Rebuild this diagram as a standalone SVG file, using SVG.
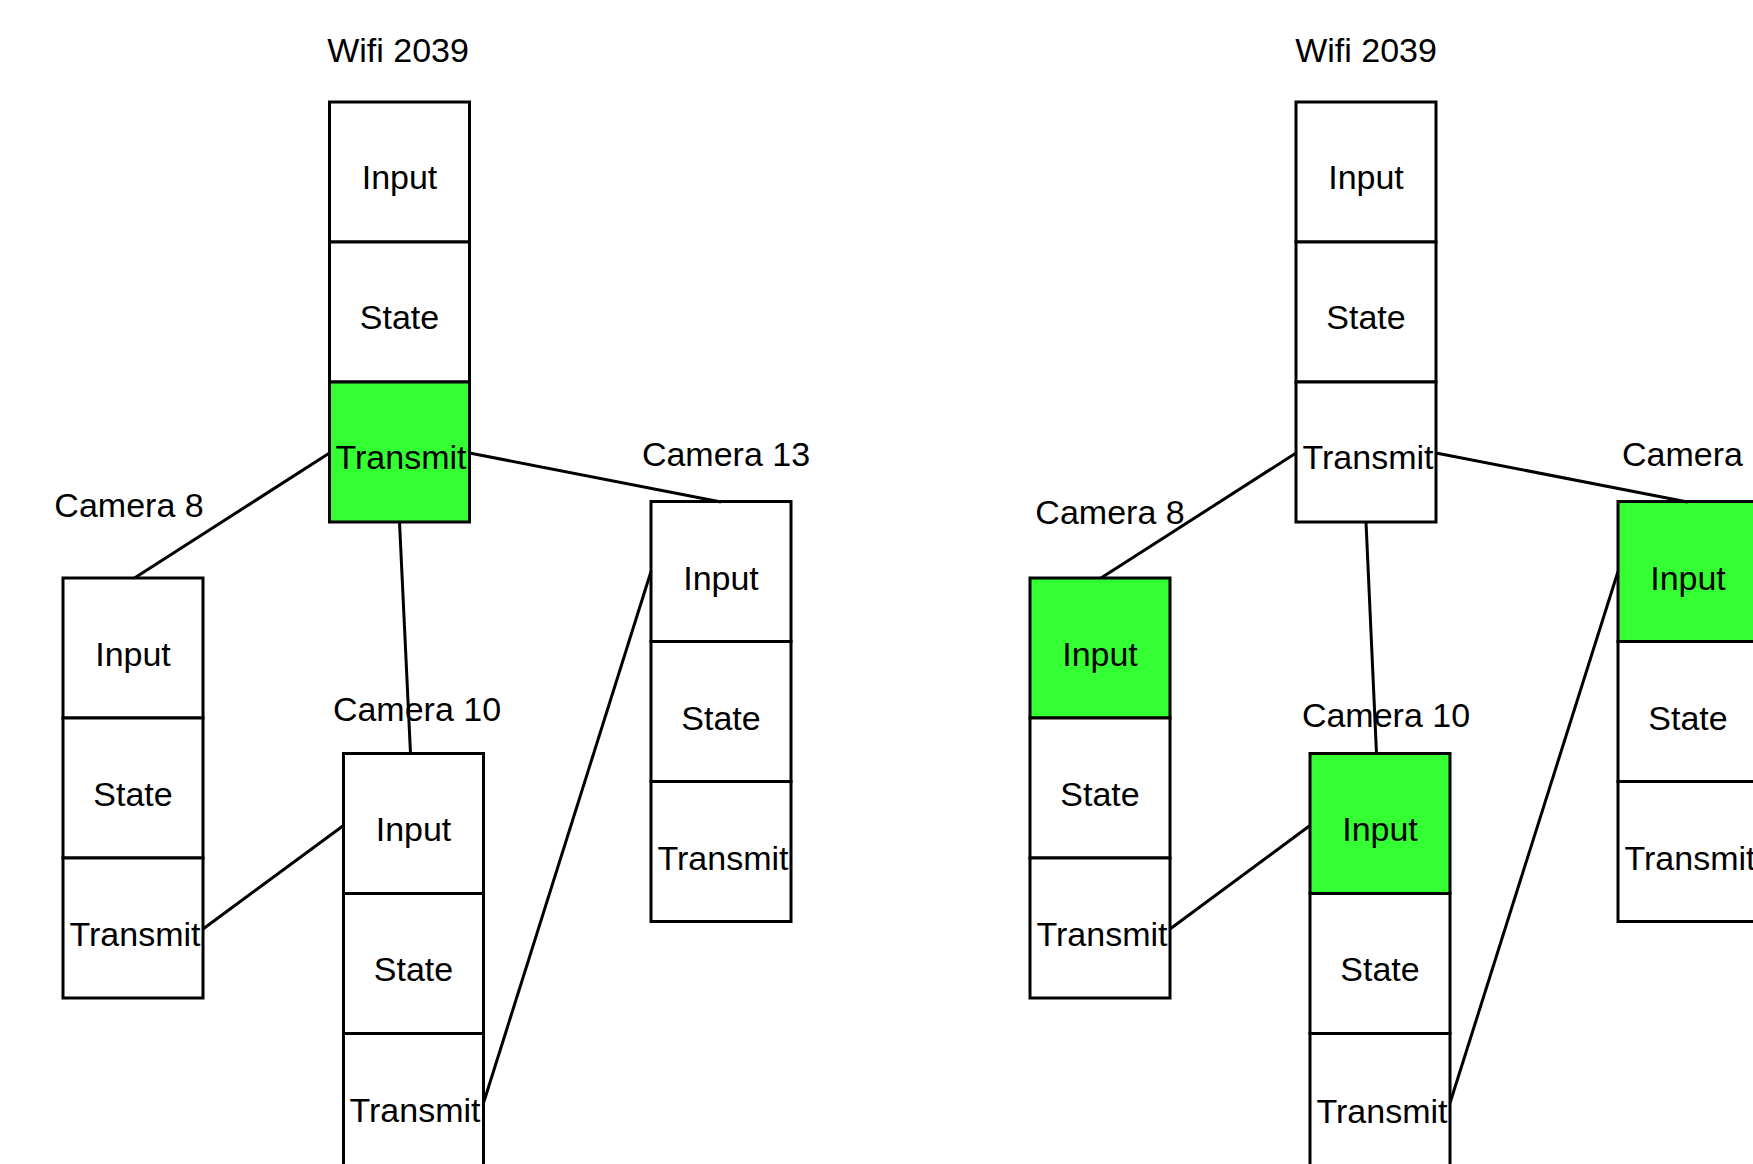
<svg xmlns="http://www.w3.org/2000/svg" width="1753" height="1164" viewBox="0 0 1753 1164">
  <style>
    .cell { fill: #ffffff; stroke: #000000; stroke-width: 3; }
    .cell.on { fill: #33ff33; }
    .txt { font-family: "Liberation Sans", Arial, sans-serif; font-size: 34px; fill: #000000; text-anchor: middle; }
    .lbl { font-family: "Liberation Sans", Arial, sans-serif; font-size: 34px; fill: #000000; text-anchor: middle; }
    .edge { stroke: #000000; stroke-width: 3; fill: none; }
  </style>
  <rect x="0" y="0" width="1753" height="1164" fill="#ffffff"/>

  <!-- Left panel: Wifi transmitting -->
  <g id="left-wifi-2039">
    <text class="lbl" x="398" y="62">Wifi 2039</text>
    <rect class="cell" x="329.5" y="102" width="140" height="140"/>
    <rect class="cell" x="329.5" y="242" width="140" height="140"/>
    <rect class="cell on" x="329.5" y="382" width="140" height="140"/>
    <text class="txt" x="399.5" y="189">Input</text>
    <text class="txt" x="399.5" y="329">State</text>
    <text class="txt" x="401" y="469">Transmit</text>
  </g>
  <g id="left-camera-8">
    <text class="lbl" x="129" y="517">Camera 8</text>
    <rect class="cell" x="63" y="578" width="140" height="140"/>
    <rect class="cell" x="63" y="718" width="140" height="140"/>
    <rect class="cell" x="63" y="858" width="140" height="140"/>
    <text class="txt" x="133" y="666">Input</text>
    <text class="txt" x="133" y="806">State</text>
    <text class="txt" x="135" y="946">Transmit</text>
  </g>
  <g id="left-camera-10">
    <text class="lbl" x="417" y="721">Camera 10</text>
    <rect class="cell" x="343.5" y="753.5" width="140" height="140"/>
    <rect class="cell" x="343.5" y="893.5" width="140" height="140"/>
    <rect class="cell" x="343.5" y="1033.5" width="140" height="140"/>
    <text class="txt" x="413.5" y="841">Input</text>
    <text class="txt" x="413.5" y="981">State</text>
    <text class="txt" x="415" y="1122">Transmit</text>
  </g>
  <g id="left-camera-13">
    <text class="lbl" x="726" y="466">Camera 13</text>
    <rect class="cell" x="651" y="501.5" width="140" height="140"/>
    <rect class="cell" x="651" y="641.5" width="140" height="140"/>
    <rect class="cell" x="651" y="781.5" width="140" height="140"/>
    <text class="txt" x="721" y="590">Input</text>
    <text class="txt" x="721" y="730">State</text>
    <text class="txt" x="723" y="870">Transmit</text>
  </g>

  <!-- Right panel: cameras receiving -->
  <g id="right-wifi-2039">
    <text class="lbl" x="1366" y="62">Wifi 2039</text>
    <rect class="cell" x="1296" y="102" width="140" height="140"/>
    <rect class="cell" x="1296" y="242" width="140" height="140"/>
    <rect class="cell" x="1296" y="382" width="140" height="140"/>
    <text class="txt" x="1366" y="189">Input</text>
    <text class="txt" x="1366" y="329">State</text>
    <text class="txt" x="1368" y="469">Transmit</text>
  </g>
  <g id="right-camera-8">
    <text class="lbl" x="1110" y="524">Camera 8</text>
    <rect class="cell on" x="1030" y="578" width="140" height="140"/>
    <rect class="cell" x="1030" y="718" width="140" height="140"/>
    <rect class="cell" x="1030" y="858" width="140" height="140"/>
    <text class="txt" x="1100" y="666">Input</text>
    <text class="txt" x="1100" y="806">State</text>
    <text class="txt" x="1102" y="946">Transmit</text>
  </g>
  <g id="right-camera-10">
    <text class="lbl" x="1386" y="727">Camera 10</text>
    <rect class="cell on" x="1310" y="753.5" width="140" height="140"/>
    <rect class="cell" x="1310" y="893.5" width="140" height="140"/>
    <rect class="cell" x="1310" y="1033.5" width="140" height="140"/>
    <text class="txt" x="1380" y="841">Input</text>
    <text class="txt" x="1380" y="981">State</text>
    <text class="txt" x="1382" y="1123">Transmit</text>
  </g>
  <g id="right-camera-13">
    <text class="lbl" x="1622" y="466" style="text-anchor:start">Camera</text>
    <rect class="cell on" x="1618" y="501.5" width="140" height="140"/>
    <rect class="cell" x="1618" y="641.5" width="140" height="140"/>
    <rect class="cell" x="1618" y="781.5" width="140" height="140"/>
    <text class="txt" x="1688" y="590">Input</text>
    <text class="txt" x="1688" y="730">State</text>
    <text class="txt" x="1690" y="870">Transmit</text>
  </g>

  <!-- Links between ports -->
  <g id="connectors">
    <line class="edge" x1="329.5" y1="453" x2="134.5" y2="578"/>
    <line class="edge" x1="469.5" y1="453" x2="721" y2="502"/>
    <line class="edge" x1="399.5" y1="522" x2="410.5" y2="753.5"/>
    <line class="edge" x1="203" y1="929" x2="343.5" y2="825.5"/>
    <line class="edge" x1="483.5" y1="1103" x2="651" y2="571.5"/>

    <line class="edge" x1="1296" y1="453" x2="1101" y2="578"/>
    <line class="edge" x1="1436" y1="453" x2="1687.5" y2="502"/>
    <line class="edge" x1="1366" y1="522" x2="1376.5" y2="753.5"/>
    <line class="edge" x1="1170" y1="929" x2="1310" y2="825.5"/>
    <line class="edge" x1="1450" y1="1103" x2="1618" y2="571.5"/>
  </g>
</svg>
